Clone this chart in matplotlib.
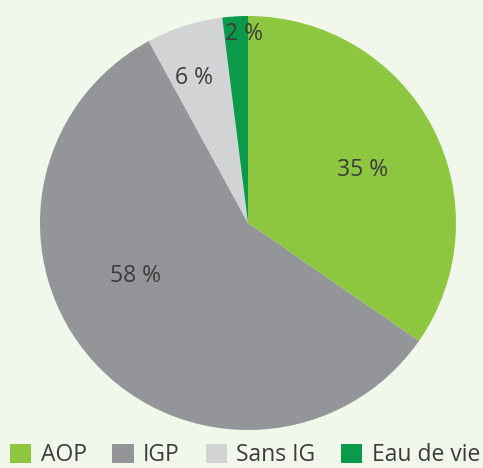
import matplotlib
matplotlib.use('Agg')
import matplotlib.pyplot as plt
from matplotlib.patches import Patch

# data
categories = ['AOP', 'IGP', 'Sans IG', 'Eau de vie']
shares = [35, 58, 6, 2]
labels = ['35 %', '58 %', '6 %', '2 %']
colors = ['#8dc63f', '#939598', '#d1d3d4', '#0b9a4a']
label_pos = [(0.55, 0.255), (-0.54, -0.255), (-0.26, 0.70), (-0.02, 0.915)]

plt.rcParams['font.family'] = ['Open Sans', 'DejaVu Sans']
bg = '#f1f7ea'
txt = '#3c3c3c'

fig = plt.figure(figsize=(4.83, 4.68), dpi=100, facecolor=bg)
ax = fig.add_axes([40 / 483, 1 - 430 / 468, 416 / 483, 414 / 468])
ax.set_facecolor(bg)

ax.pie(shares, colors=colors, startangle=90, counterclock=False,
       wedgeprops=dict(linewidth=0))
ax.set_xlim(-1, 1)
ax.set_ylim(-1, 1)
ax.set_aspect('auto')
ax.axis('off')

for (x, y), lab in zip(label_pos, labels):
    ax.text(x, y, lab, ha='center', va='center', fontsize=16.5, color=txt)

handles = [Patch(facecolor=col, edgecolor='none', label=cat)
           for cat, col in zip(categories, colors)]
fig.legend(handles=handles, loc='lower left', bbox_to_anchor=(0.009, -0.011),
           ncol=4, frameon=False, fontsize=16.5, labelcolor=txt,
           handlelength=0.92, handleheight=0.9, handletextpad=0.42,
           columnspacing=1.12, borderpad=0.25, borderaxespad=0.0)

fig.savefig('out.png', dpi=100, facecolor=bg)
